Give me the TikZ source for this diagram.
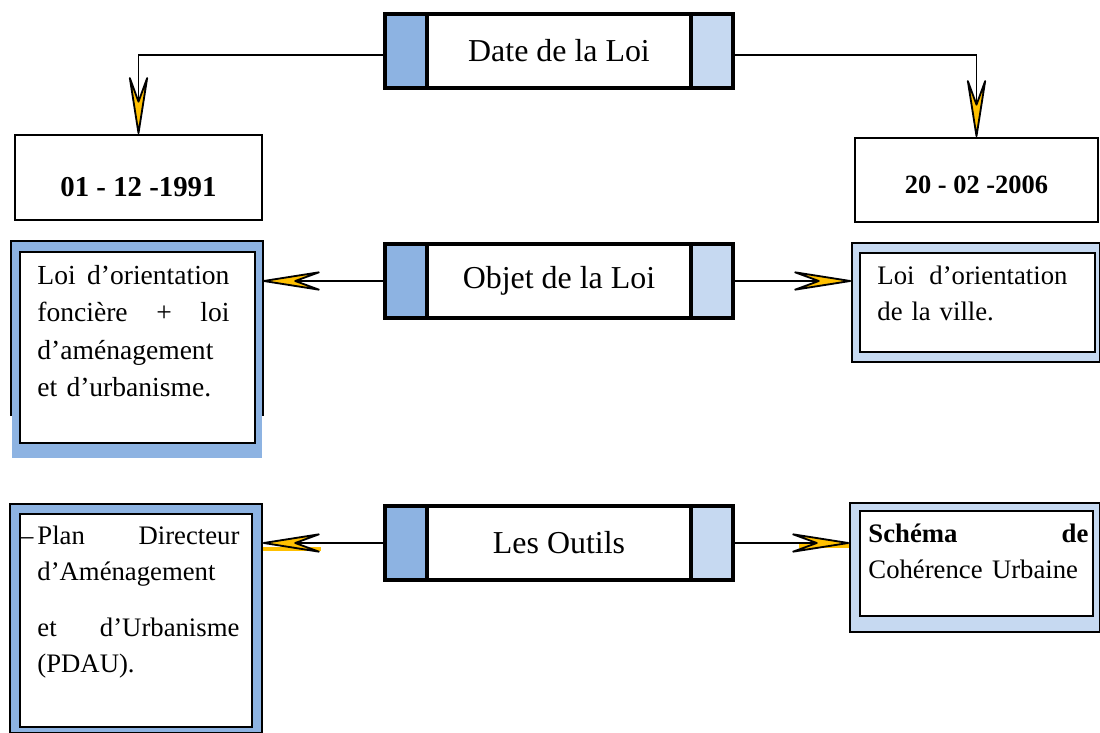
\documentclass[tikz,border=0pt]{standalone}
\usepackage{fontspec}
\setmainfont{Liberation Serif}
\usetikzlibrary{arrows.meta,calc}

\definecolor{bluedark}{HTML}{8DB3E2}
\definecolor{bluelight}{HTML}{C6D9F1}
\definecolor{tipyellow}{HTML}{FFC000}

\tikzset{
  loibox/.style={draw, line width=2.5pt, fill=white, minimum width=8.7cm, minimum height=1.85cm,
    font=\fontsize{22.7}{27}\selectfont,
    path picture={
      \fill[bluedark] (path picture bounding box.south west) rectangle ([xshift=1.05cm]path picture bounding box.north west);
      \fill[bluelight] ([xshift=-1.05cm]path picture bounding box.south east) rectangle (path picture bounding box.north east);
      \draw[line width=2.5pt] ([xshift=1.05cm]path picture bounding box.south west) -- ([xshift=1.05cm]path picture bounding box.north west);
      \draw[line width=2.5pt] ([xshift=-1.05cm]path picture bounding box.south east) -- ([xshift=-1.05cm]path picture bounding box.north east);
    }},
  datebox/.style={draw, line width=1.3pt},
  outerbox/.style={line width=1.2pt},
  innerbox/.style={draw, line width=1.2pt, fill=white},
  boxtext/.style={anchor=north west, inner sep=0pt, align=left, font=\fontsize{19}{25.5}\selectfont},
  tiparrow/.style={line width=0.8pt, -{Stealth[round, length=1.75cm, width=0.55cm, inset=0.75cm, fill=tipyellow, line width=1.3pt]}},
}

\begin{document}
\begin{tikzpicture}
\useasboundingbox (0,0) rectangle (27.5,18.325);

% middle boxes
\node[loibox] (date) at (13.975,17.05) {Date de la Loi};
\node[loibox] (objet) at (13.975,11.3) {Objet de la Loi};
\node[loibox] (outils) at (13.975,4.75) {Les Outils};

% dates
\node[datebox, minimum width=6.175cm, minimum height=2.125cm, font=\bfseries\fontsize{20.5}{24}\selectfont] (d1991) at (3.4625,13.8875) {\raisebox{-0.25cm}[\height][\depth]{01 - 12 -1991}};
\node[datebox, minimum width=6.075cm, minimum height=2.1cm, font=\bfseries\fontsize{18.8}{22}\selectfont] (d2006) at (24.4125,13.825) {\raisebox{-0.125cm}[\height][\depth]{20 - 02 -2006}};

% objet, left box (outline stops above the blue base)
\node[outerbox, fill=bluedark, minimum width=6.25cm, minimum height=5.4cm] (loi1991) at (3.425,9.575) {};
\draw[outerbox] ([yshift=1.075cm]loi1991.south west) |- (loi1991.north) -| ([yshift=1.075cm]loi1991.south east);
\node[innerbox, minimum width=5.875cm, minimum height=4.775cm] (loi1991in) at (3.4375,9.6375) {};
\node[boxtext, text width=4.8cm, font=\fontsize{19.6}{26.5}\selectfont] (loi1991txt) at ([shift={(0.45,-0.35)}]loi1991in.north west)
  {Loi\hfill d’orientation\\ foncière\hfill +\hfill loi\\ d’aménagement\\ et d’urbanisme.};

% objet, right box
\node[outerbox, draw, fill=bluelight, minimum width=6.2cm, minimum height=2.975cm] (loi2006) at (24.4,10.7625) {};
\node[innerbox, minimum width=5.875cm, minimum height=2.475cm] (loi2006in) at (24.4375,10.7625) {};
\node[boxtext, text width=4.75cm] (loi2006txt) at ([shift={(0.45,-0.35)}]loi2006in.north west)
  {Loi\hfill d’orientation\\ de la ville.};

% outils, left box
\node[outerbox, draw, fill=bluedark, minimum width=6.3cm, minimum height=5.725cm] (pdau) at (3.4,2.8625) {};
\node[innerbox, minimum width=5.8cm, minimum height=5.325cm] (pdauin) at (3.4,2.8125) {};
\node[boxtext, text width=5.05cm] (pdautxt) at ([shift={(0.45,-0.325)}]pdauin.north west)
  {\llap{–\hspace{0.15em}}Plan\hfill Directeur\\ d’Aménagement\\[0.5cm] et\hfill d’Urbanisme\\ (PDAU).};

% outils, right box
\node[outerbox, draw, fill=bluelight, minimum width=6.25cm, minimum height=3.225cm] (scu) at (24.375,4.1375) {};
\node[innerbox, minimum width=5.825cm, minimum height=2.625cm] (scuin) at (24.4125,4.2375) {};
\node[boxtext, text width=5.5cm] (scutxt) at ([shift={(0.225,-0.35)}]scuin.north west)
  {\textbf{Schéma}\hfill\textbf{de}\\ \mbox{Cohérence\hspace{0.35em}Urbaine}};

% connectors
\draw[tiparrow] ([yshift=-0.1cm]date.west) -| (d1991.north);
\draw[tiparrow] ([yshift=-0.1cm]date.east) -| (d2006.north);
\draw[tiparrow] (objet.west) -- (objet.west -| loi1991.east);
\draw[tiparrow] (objet.east) -- (objet.east -| loi2006.west);
\draw[line width=3.5pt, tipyellow] ([yshift=-0.15cm]outils.west -| pdau.east) -- ++(1.45,0);
\draw[line width=3.5pt, tipyellow] ([yshift=-0.075cm]outils.east -| scu.west) -- ++(-1.25,0);
\draw[tiparrow] (outils.west) -- (outils.west -| pdau.east);
\draw[tiparrow] (outils.east) -- (outils.east -| scu.west);

\end{tikzpicture}
\end{document}
